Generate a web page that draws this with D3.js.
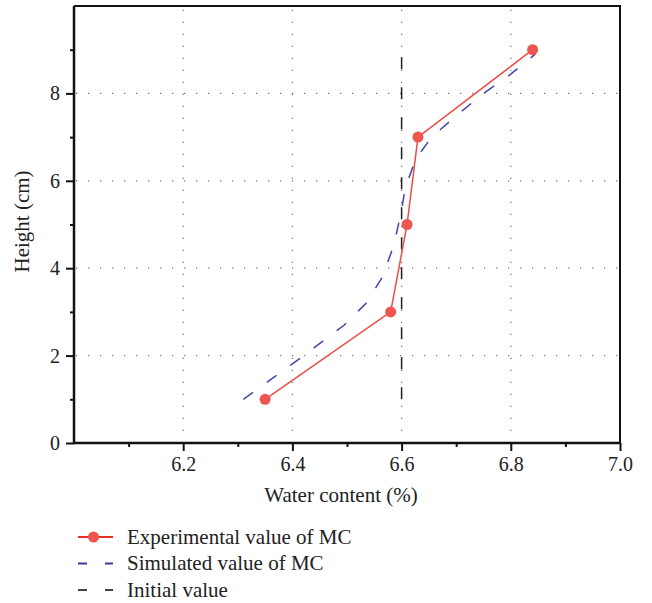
<!DOCTYPE html>
<html>
<head>
<meta charset="utf-8">
<script src="https://cdn.jsdelivr.net/npm/d3@7"></script>
<style>
    body { margin: 0; background: #fff; }
    svg text { font-family: "Liberation Serif", "DejaVu Serif", serif; fill: #222; }
</style>
</head>
<body>
<div id="content"></div>
<script>
// data
const heights = [1, 3, 5, 7, 9];
const experimental = [6.35, 6.58, 6.61, 6.63, 6.84];

const simHeights = [1.0, 1.9, 2.7, 3.2, 3.8, 4.5, 5.2, 5.85, 6.5, 7.0, 7.55, 8.0, 8.4, 8.9];
const simulated = [6.31, 6.41, 6.495, 6.535, 6.565, 6.585, 6.598, 6.607, 6.626, 6.655, 6.706, 6.75, 6.796, 6.845];

const initialValue = 6.6;
const initialHeights = [1, 9];

const xTicks = [6.2, 6.4, 6.6, 6.8, 7.0];
const xMinor = [6.1, 6.3, 6.5, 6.7, 6.9];
const yTicks = [0, 2, 4, 6, 8];
const yMinor = [1, 3, 5, 7, 9];

const legendLabels = ["Experimental value of MC", "Simulated value of MC", "Initial value"];

let width = 652, height = 603;
let margin = {left: 74, right: 32, top: 6, bottom: 160};

function init() {
    let svg = d3.select("#content").append("svg")
        .attr("width", width).attr("height", height);

    let x = d3.scaleLinear().domain([6.0, 7.0]).range([margin.left, width - margin.right]);
    let y = d3.scaleLinear().domain([0, 10]).range([height - margin.bottom, margin.top]);

    // grid
    let grid = svg.append("g").attr("stroke", "#777").attr("stroke-width", 1.3)
        .attr("stroke-dasharray", "1.3,10.7");
    grid.selectAll("line.gx").data(xTicks.slice(0, 4)).enter().append("line")
        .attr("x1", d => x(d)).attr("x2", d => x(d))
        .attr("y1", y(0) - 12).attr("y2", y(10));
    grid.selectAll("line.gy").data(yTicks.slice(1)).enter().append("line")
        .attr("y1", d => y(d)).attr("y2", d => y(d))
        .attr("x1", x(6.0) + 2).attr("x2", x(7.0));

    // frame top + right
    svg.append("path")
        .attr("d", `M${x(6.0)},${y(10)}H${x(7.0)}V${y(0)}`)
        .attr("fill", "none").attr("stroke", "#111").attr("stroke-width", 2);

    // axes
    let xAxis = svg.append("g").attr("transform", `translate(0,${y(0)})`)
        .call(d3.axisBottom(x).tickValues(xTicks).tickFormat(d3.format(".1f")).tickSize(8).tickPadding(6));
    svg.append("g").attr("transform", `translate(0,${y(0)})`)
        .call(d3.axisBottom(x).tickValues(xMinor).tickFormat("").tickSize(4))
        .select(".domain").remove();
    let yAxis = svg.append("g").attr("transform", `translate(${x(6.0)},0)`)
        .call(d3.axisLeft(y).tickValues(yTicks).tickSize(8).tickPadding(6));
    svg.append("g").attr("transform", `translate(${x(6.0)},0)`)
        .call(d3.axisLeft(y).tickValues(yMinor).tickFormat("").tickSize(4))
        .select(".domain").remove();

    svg.selectAll(".tick line").attr("stroke", "#111").attr("stroke-width", 2);
    svg.selectAll(".domain").attr("stroke", "#111").attr("stroke-width", 2.5);
    svg.selectAll(".tick text").style("font-family", '"Liberation Serif", serif')
        .style("font-size", "20px").attr("fill", "#222");
    yAxis.select(".domain").attr("d", `M0,${y(0)}V${y(10)}`);
    xAxis.select(".domain").attr("d", `M${x(6.0)},0H${x(7.0)}`);

    // initial value line
    svg.append("path")
        .datum(initialHeights)
        .attr("d", d3.line().x(() => x(initialValue)).y(d => y(d)))
        .attr("fill", "none").attr("stroke", "#222").attr("stroke-width", 1.5)
        .attr("stroke-dasharray", "12,18");

    // simulated
    svg.append("path")
        .datum(d3.zip(simulated, simHeights))
        .attr("d", d3.line().x(d => x(d[0])).y(d => y(d[1])))
        .attr("fill", "none").attr("stroke", "#4146a8").attr("stroke-width", 1.5)
        .attr("stroke-dasharray", "12,17");

    // experimental
    let exp = d3.zip(experimental, heights);
    svg.append("path")
        .datum(exp)
        .attr("d", d3.line().x(d => x(d[0])).y(d => y(d[1])))
        .attr("fill", "none").attr("stroke", "#ee4b45").attr("stroke-width", 1.5);
    svg.selectAll("circle.exp").data(exp).enter().append("circle")
        .attr("cx", d => x(d[0])).attr("cy", d => y(d[1])).attr("r", 5.5)
        .attr("fill", "#ee5550");

    // axis titles
    svg.append("text").attr("x", (x(6.0) + x(7.0)) / 2 - 6).attr("y", 502)
        .attr("text-anchor", "middle").style("font-size", "21px").text("Water content (%)");
    svg.append("text").attr("transform", `translate(29,${y(5) - 3}) rotate(-90)`)
        .attr("text-anchor", "middle").style("font-size", "21px").text("Height (cm)");

    // legend
    let leg = svg.append("g").attr("transform", "translate(78,537)");
    let styles = [
        {stroke: "#e8302a", dash: null},
        {stroke: "#3a3a9a", dash: "9,18"},
        {stroke: "#444", dash: "9,18"},
    ];
    legendLabels.forEach((label, i) => {
        let g = leg.append("g").attr("transform", `translate(0,${i * 26.5})`);
        g.append("line").attr("x1", 0).attr("x2", 35).attr("y1", 0).attr("y2", 0)
            .attr("stroke", styles[i].stroke).attr("stroke-width", 2)
            .attr("stroke-dasharray", styles[i].dash);
        if (i == 0) {
            g.append("circle").attr("cx", 15.5).attr("cy", 0).attr("r", 5.5).attr("fill", "#ee5550");
        }
        g.append("text").attr("x", 49).attr("y", 6.5).style("font-size", "21px").text(label);
    });
}

init();
</script>
</body>
</html>
